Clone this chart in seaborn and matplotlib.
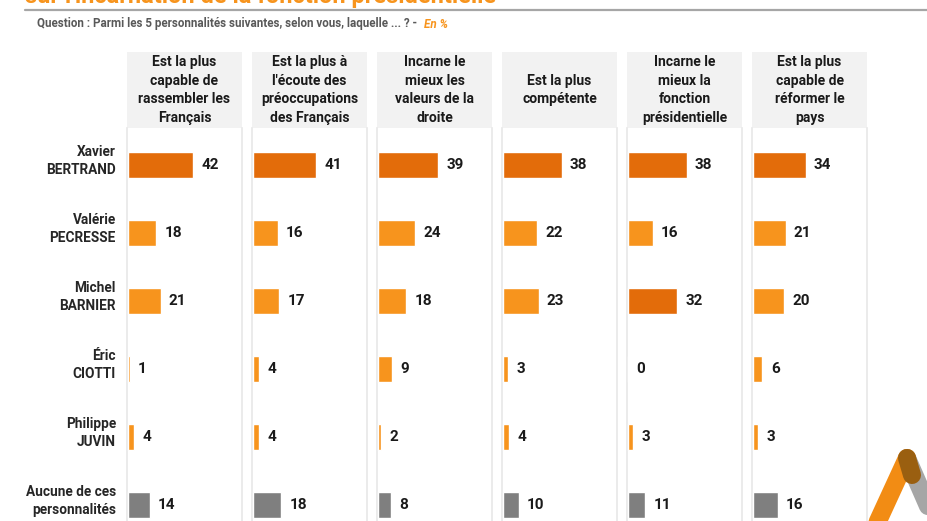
import numpy as np
import pandas as pd
import matplotlib
matplotlib.use("Agg")
import matplotlib.pyplot as plt
from matplotlib.patches import Rectangle
from matplotlib.lines import Line2D
import seaborn as sns

# data
candidates = ["Xavier\nBERTRAND", "Valérie\nPECRESSE", "Michel\nBARNIER",
              "Éric\nCIOTTI", "Philippe\nJUVIN", "Aucune de ces\npersonnalités"]
questions = ["Est la plus\ncapable de\nrassembler les\nFrançais",
             "Est la plus à\nl'écoute des\npréoccupations\ndes Français",
             "Incarne le\nmieux les\nvaleurs de la\ndroite",
             "Est la plus\ncompétente",
             "Incarne le\nmieux la\nfonction\nprésidentielle",
             "Est la plus\ncapable de\nréformer le\npays"]
q1 = [42, 18, 21, 1, 4, 14]
q2 = [41, 16, 17, 4, 4, 18]
q3 = [39, 24, 18, 9, 2, 8]
q4 = [38, 22, 23, 3, 4, 10]
q5 = [38, 16, 32, 0, 3, 11]
q6 = [34, 21, 20, 6, 3, 16]
series = [q1, q2, q3, q4, q5, q6]

title = "sur l'incarnation de la fonction présidentielle"
subtitle = "Question : Parmi les 5 personnalités suivantes, selon vous, laquelle ... ? - "

DARK = "#E36C0A"
LIGHT = "#F7941D"
GREY = "#7F7F7F"
palette = {"top": DARK, "other": LIGHT, "none": GREY}

sns.set_theme(style="white")
plt.rcParams['font.family'] = ['Roboto', 'DejaVu Sans']

W, H = 927, 521
fig = plt.figure(figsize=(W / 100, H / 100), dpi=100)


def fx(px):
    return px / W


def fy(py):
    return 1 - py / H


# title (cut at the top) and rule
fig.text(fx(25), fy(-3), title, color=LIGHT, fontsize=17, fontweight='bold',
         ha='left', va='center')
fig.add_artist(Line2D([fx(25), 1], [fy(9.5), fy(9.5)], color="#A6A6A6", lw=1.6))
t = fig.text(fx(37), fy(24), subtitle, color="#595959", fontsize=8.4,
             fontweight='bold', ha='left', va='center')
fig.canvas.draw()
bb = t.get_window_extent()
fig.text(bb.x1 / W + 0.004, fy(24), "En %", color=LIGHT, fontsize=8.4,
         fontweight='bold', style='italic', ha='left', va='center')

panel_w = 115
pitch = 125
x0 = 127
top_body = 128
row0 = 165
row_step = 68

for i, (q, vals) in enumerate(zip(questions, series)):
    left = x0 + i * pitch
    # header box
    fig.add_artist(Rectangle((fx(left), fy(top_body)), fx(panel_w), fy(52) - fy(top_body),
                             transform=fig.transFigure, facecolor="#F2F2F2",
                             edgecolor='none', zorder=0))
    fig.text(fx(left + panel_w / 2), fy(90), q, ha='center', va='center',
             fontsize=10, fontweight='bold', color="#1A1A1A", linespacing=1.4)

    ax = fig.add_axes([fx(left), 0, fx(panel_w), fy(top_body)])
    kind = []
    for c, v in zip(candidates, vals):
        if c.startswith("Aucune"):
            kind.append("none")
        elif v >= 30:
            kind.append("top")
        else:
            kind.append("other")
    df = pd.DataFrame({"cand": candidates, "val": vals, "kind": kind})
    sns.barplot(data=df, x="val", y="cand", hue="kind", palette=palette,
                orient='h', dodge=False, legend=False, width=0.39,
                saturation=1, ax=ax)
    ax.set_xlim(-0.8, 74)
    ax.set_ylim(5 + (H - 505) / row_step, -(row0 - top_body) / row_step)
    ax.set_xlabel("")
    ax.set_ylabel("")
    ax.set_xticks([])
    ax.set_yticks([])
    for s in ["top", "bottom"]:
        ax.spines[s].set_visible(False)
    for s in ["left", "right"]:
        ax.spines[s].set_color("#E8E8E8")
        ax.spines[s].set_linewidth(1.2)
        ax.spines[s].set_zorder(0.5)
    for j, v in enumerate(vals):
        ax.annotate(str(v), (v, j), xytext=(6, 0), textcoords='offset points',
                    ha='left', va='center', fontsize=11, fontweight='bold',
                    color="#1A1A1A")
    if i == 0:
        for j, c in enumerate(candidates):
            ax.annotate(c, (0, j - 0.06), xycoords=('axes fraction', 'data'),
                        xytext=(-8, 0), textcoords='offset points',
                        ha='right', va='center', fontsize=9.8, fontweight='bold',
                        color="#262626", linespacing=1.35, annotation_clip=False)

# logo in the lower right corner
fig.add_artist(Line2D([fx(907), fx(945)], [fy(458), fy(545)], color="#A6A6A6",
                      lw=13, solid_capstyle='round'))
fig.add_artist(Line2D([fx(907), fx(867)], [fy(458), fy(545)], color="#F28C14",
                      lw=13, solid_capstyle='round'))
fig.add_artist(Line2D([fx(907), fx(912)], [fy(458), fy(475)], color="#9A5F10",
                      lw=13, solid_capstyle='round'))

plt.savefig("out.png", dpi=100)
plt.close()
